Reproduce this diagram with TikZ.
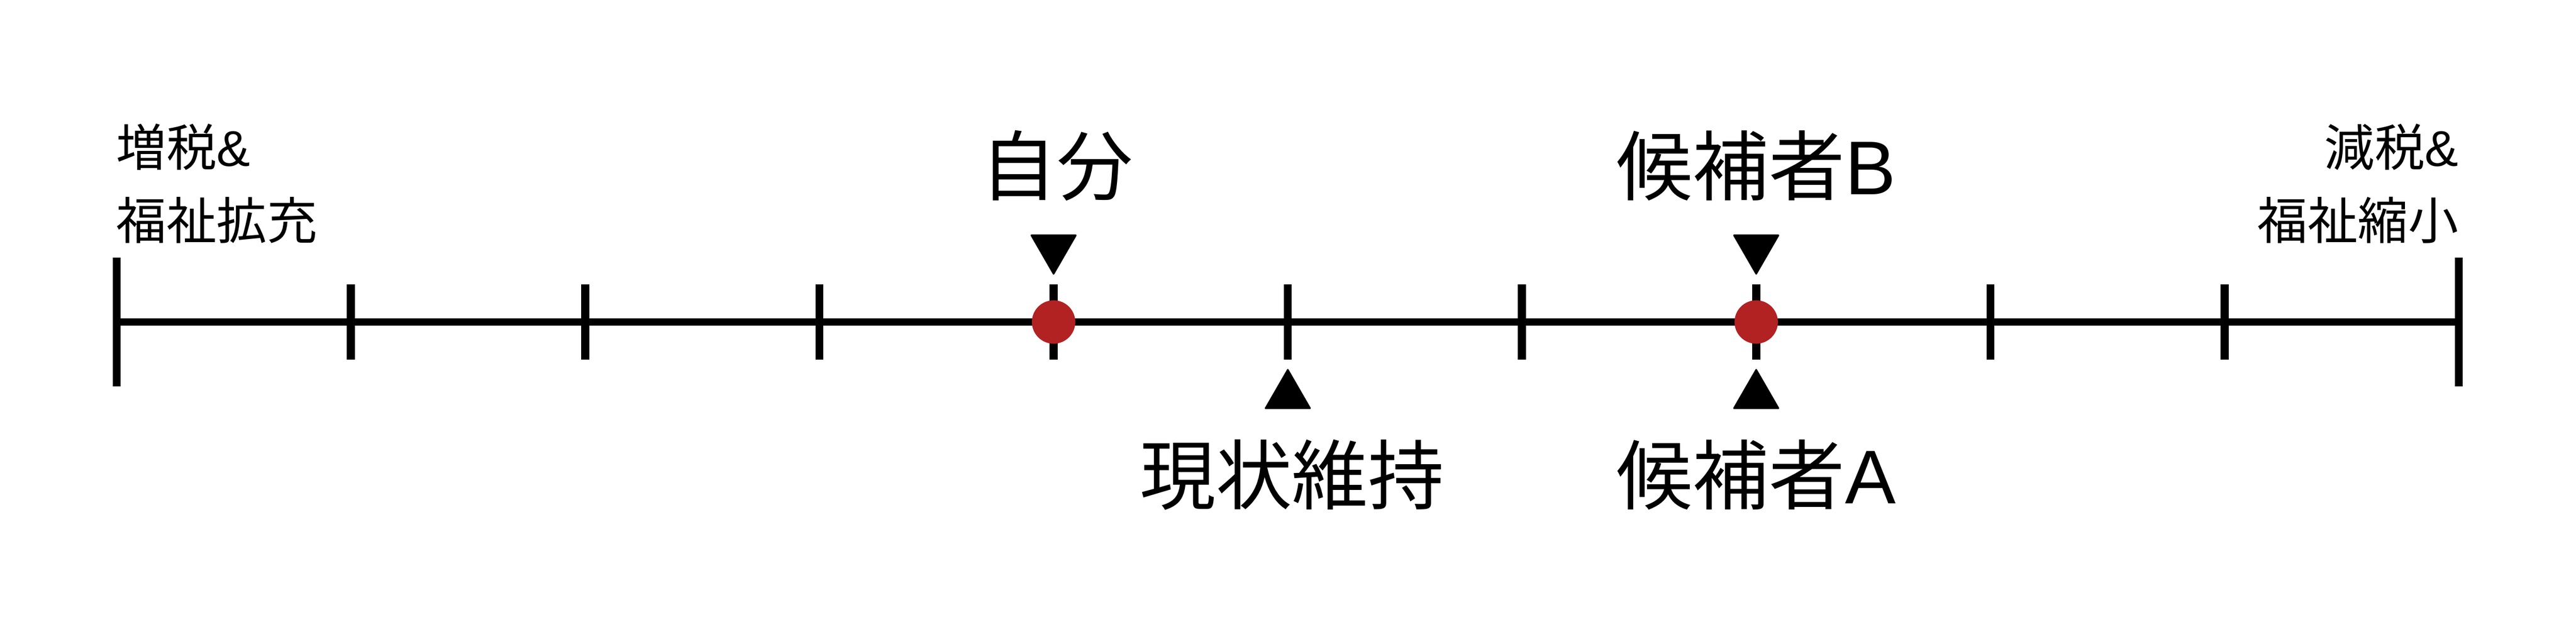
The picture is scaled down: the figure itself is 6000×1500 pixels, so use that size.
\documentclass[tikz,border=0pt]{standalone}
\usepackage{fontspec}
\setmainfont{Liberation Sans}
\newfontfamily\cjk{Noto Sans CJK JP}
\usetikzlibrary{shapes.geometric}
\definecolor{dotred}{RGB}{178,34,34}
\begin{document}
\begin{tikzpicture}[x=0.01cm,y=0.01cm,
  axisline/.style={line width=4.9pt},
  tickline/.style={line width=5.3pt},
  biglabel/.style={font=\fontsize{50.4pt}{60pt}\selectfont, inner sep=0pt, anchor=base},
  smallleft/.style={font=\fontsize{33.3pt}{40pt}\selectfont, inner sep=0pt, anchor=base west},
  smallright/.style={font=\fontsize{33.3pt}{40pt}\selectfont, inner sep=0pt, anchor=base east},
  marker/.style={regular polygon, regular polygon sides=3, fill=black, minimum size=1.27cm, inner sep=0pt, outer sep=0pt, rounded corners=1pt},
  dotnode/.style={circle, fill=dotred, minimum size=1.01cm, inner sep=0pt, outer sep=0pt}]
\useasboundingbox (0,0) rectangle (6000,-1500);
% tick positions
\foreach \i in {0,...,10} {
  \coordinate (t\i) at ({272+545.5*\i},-750);
  \coordinate (u\i) at ({272+545.5*\i},-662);
  \coordinate (d\i) at ({272+545.5*\i},-838);
}
\coordinate (eu0) at (272,-600);
\coordinate (ed0) at (272,-900);
\coordinate (eu10) at (5727,-600);
\coordinate (ed10) at (5727,-900);
% axis
\draw[axisline] (t0) -- (t10);
\draw[tickline] (eu0) -- (ed0);
\draw[tickline] (eu10) -- (ed10);
\foreach \i in {1,...,9} \draw[tickline] (u\i) -- (d\i);
% dots
\node[dotnode] (me) at (t4) {};
\node[dotnode] (candB) at (t7) {};
% markers
\node[marker, shape border rotate=180] (mMe) at ({272+545.5*4},-578) {};
\node[marker, shape border rotate=180] (mB) at ({272+545.5*7},-578) {};
\node[marker] (mSQ) at ({272+545.5*5},-921) {};
\node[marker] (mA) at ({272+545.5*7},-921) {};
% labels
\node[biglabel] (lMe) at ({272+545.5*4+8},-453) {\cjk 自分};
\node[biglabel] (lB) at ({272+545.5*7},-453) {{\cjk 候補者}B};
\node[biglabel] (lSQ) at ({272+545.5*5+10},-1173) {\cjk 現状維持};
\node[biglabel] (lA) at ({272+545.5*7},-1173) {{\cjk 候補者}A};
% end labels
\node[smallleft] (lL1) at (270,-387) {{\cjk 増税}\&};
\node[smallleft] (lL2) at (270,-557) {\cjk 福祉拡充};
\node[smallright] (lR1) at (5727,-387) {{\cjk 減税}\&};
\node[smallright] (lR2) at (5727,-557) {\cjk 福祉縮小};
\end{tikzpicture}
\end{document}
